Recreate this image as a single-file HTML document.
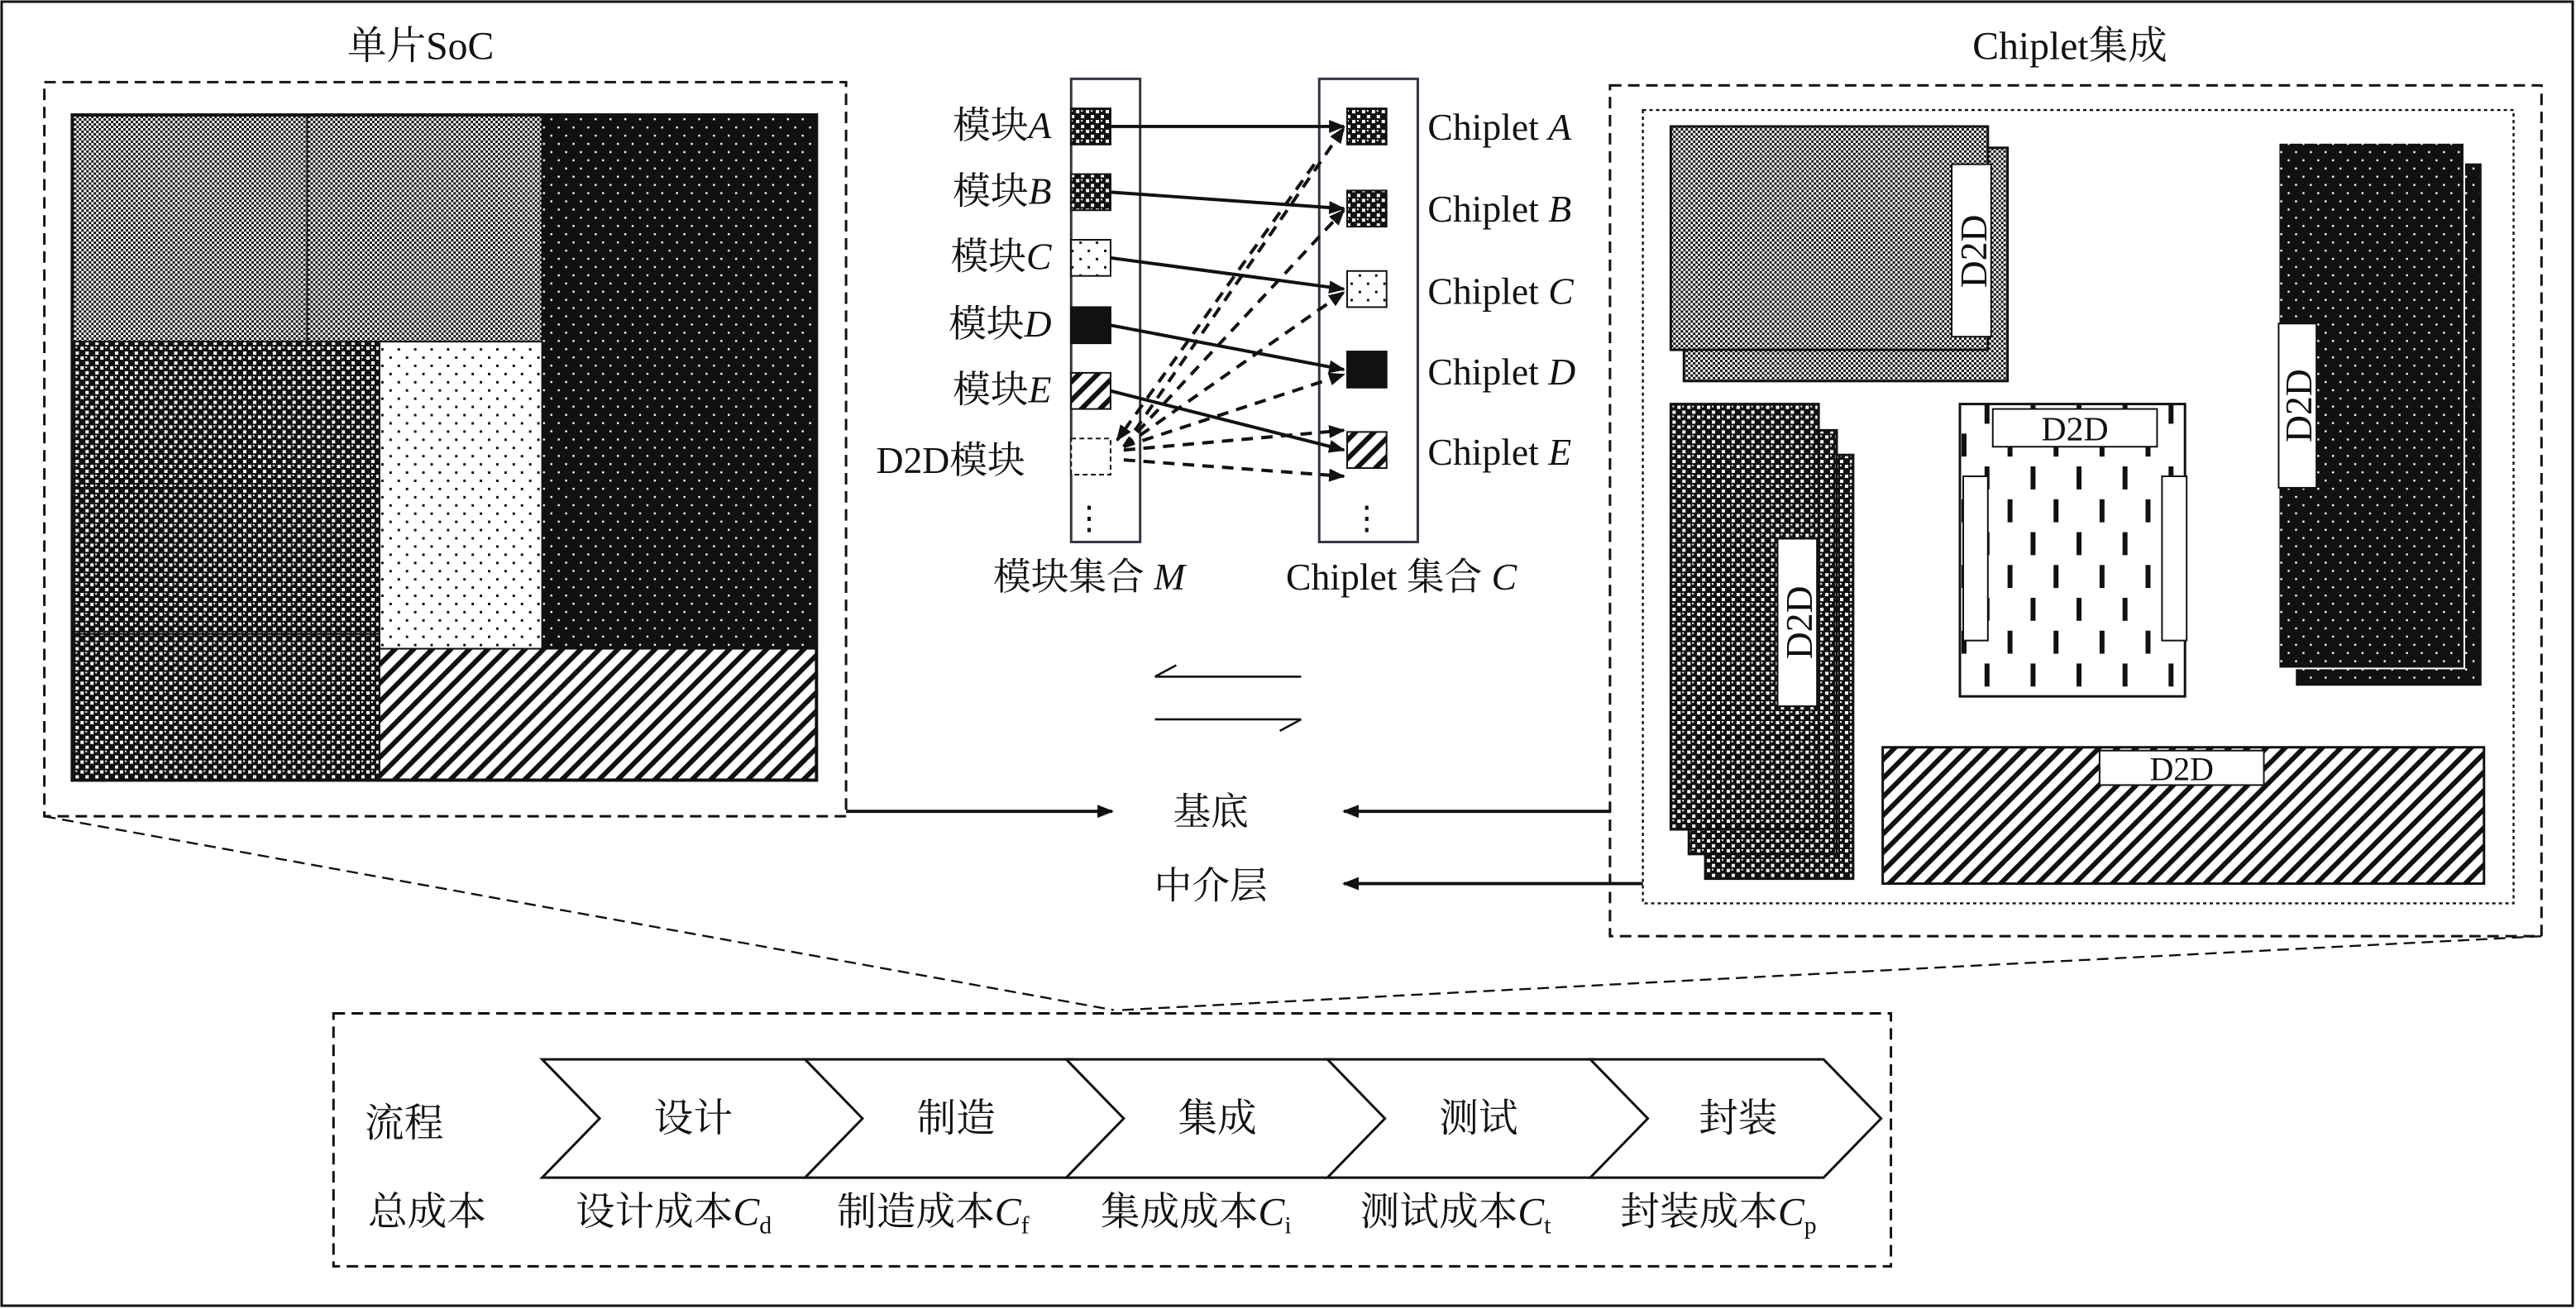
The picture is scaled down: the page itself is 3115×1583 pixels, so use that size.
<!DOCTYPE html>
<html><head><meta charset="utf-8"><style>html,body{margin:0;padding:0;background:#fff}svg{display:block}text{font-family:"Liberation Serif","Noto Serif CJK SC",serif;fill:#111}</style></head>
<body>
<svg width="3115" height="1583" viewBox="0 0 1568 797" preserveAspectRatio="none" xmlns="http://www.w3.org/2000/svg">
<defs>
<pattern id="ck" width="3" height="3" patternUnits="userSpaceOnUse"><rect width="3" height="3" fill="#fff"/><rect width="1.5" height="1.5" fill="#111"/><rect x="1.5" y="1.5" width="1.5" height="1.5" fill="#111"/></pattern>
<pattern id="ck2" width="6" height="6" patternUnits="userSpaceOnUse"><rect width="6" height="6" fill="#111"/><rect x="1" y="1" width="2" height="2" fill="#fff"/><rect x="4" y="4" width="2" height="2" fill="#fff"/><rect x="4" y="1" width="1" height="1" fill="#fff"/></pattern>
<pattern id="bd" width="9" height="10" patternUnits="userSpaceOnUse"><rect width="9" height="10" fill="#111"/><rect x="2" y="2" width="1.2" height="1.2" fill="#fff"/><rect x="6.5" y="7" width="1.2" height="1.2" fill="#fff"/></pattern>
<pattern id="wd" width="10" height="10" patternUnits="userSpaceOnUse"><rect width="10" height="10" fill="#fff"/><rect x="2" y="2" width="1.5" height="1.5" fill="#111"/><rect x="7" y="7" width="1.5" height="1.5" fill="#111"/></pattern>
<pattern id="ht" width="8" height="8" patternUnits="userSpaceOnUse" patternTransform="rotate(45)"><rect width="8" height="8" fill="#fff"/><rect width="3" height="8" fill="#111"/></pattern>
<pattern id="ds" width="28" height="40" patternUnits="userSpaceOnUse"><rect width="28" height="40" fill="#fff"/><rect x="4" y="4" width="3" height="14" fill="#111"/><rect x="18" y="24" width="3" height="14" fill="#111"/></pattern>
<marker id="ar" markerWidth="10" markerHeight="8" refX="9" refY="4" orient="auto" markerUnits="userSpaceOnUse"><path d="M0,0 L10,4 L0,8 Z" fill="#111"/></marker>
</defs>
<rect x="1" y="1" width="1565" height="794" fill="none" stroke="#111" stroke-width="1.5"/>
<text x="256" y="36" font-size="24" text-anchor="middle">单片SoC</text>
<text x="1260" y="36" font-size="24" text-anchor="middle">Chiplet集成</text>
<rect x="27" y="50" width="488" height="447" fill="none" stroke="#111" stroke-width="1.5" stroke-dasharray="7,4"/>
<rect x="44" y="70" width="143" height="138" fill="url(#ck)" stroke="#111"/>
<rect x="187" y="70" width="143" height="138" fill="url(#ck)" stroke="#111"/>
<rect x="330" y="70" width="167" height="325" fill="url(#bd)" stroke="#111"/>
<rect x="44" y="208" width="187" height="89" fill="url(#ck2)" stroke="#111"/>
<rect x="44" y="297" width="187" height="89" fill="url(#ck2)" stroke="#111"/>
<rect x="44" y="386" width="187" height="89" fill="url(#ck2)" stroke="#111"/>
<rect x="231" y="208" width="99" height="187" fill="url(#wd)" stroke="#111"/>
<rect x="231" y="395" width="266" height="80" fill="url(#ht)" stroke="#111"/>
<rect x="44" y="70" width="453" height="405" fill="none" stroke="#111" stroke-width="2"/>
<path d="M27,497 L678,615 M1547,570 L682,615" stroke="#111" stroke-width="1.2" stroke-dasharray="7,4" fill="none"/>
<rect x="652" y="48" width="42" height="282" fill="none" stroke="#334" stroke-width="1.5"/>
<rect x="803" y="48" width="60" height="282" fill="none" stroke="#334" stroke-width="1.5"/>
<g font-size="23" text-anchor="end">
<text x="640" y="84">模块<tspan font-style="italic">A</tspan></text>
<text x="640" y="124">模块<tspan font-style="italic">B</tspan></text>
<text x="640" y="164">模块<tspan font-style="italic">C</tspan></text>
<text x="640" y="205">模块<tspan font-style="italic">D</tspan></text>
<text x="640" y="245">模块<tspan font-style="italic">E</tspan></text>
<text x="624" y="288">D2D模块</text>
</g>
<g font-size="23">
<text x="869" y="85">Chiplet <tspan font-style="italic">A</tspan></text>
<text x="869" y="135">Chiplet <tspan font-style="italic">B</tspan></text>
<text x="869" y="185">Chiplet <tspan font-style="italic">C</tspan></text>
<text x="869" y="234">Chiplet <tspan font-style="italic">D</tspan></text>
<text x="869" y="283">Chiplet <tspan font-style="italic">E</tspan></text>
</g>
<rect x="652" y="66" width="24" height="22" fill="url(#ck2)" stroke="#111"/>
<rect x="652" y="106" width="24" height="22" fill="url(#ck2)" stroke="#111"/>
<rect x="652" y="146" width="24" height="22" fill="url(#wd)" stroke="#111"/>
<rect x="652" y="187" width="24" height="22" fill="#111" stroke="#111"/>
<rect x="652" y="227" width="24" height="22" fill="url(#ht)" stroke="#111"/>
<rect x="652" y="267" width="24" height="22" fill="#fff" stroke="#111" stroke-dasharray="3,2"/>
<rect x="820" y="66" width="24" height="22" fill="url(#ck2)" stroke="#111"/>
<rect x="820" y="116" width="24" height="22" fill="url(#ck2)" stroke="#111"/>
<rect x="820" y="165" width="24" height="22" fill="url(#wd)" stroke="#111"/>
<rect x="820" y="214" width="24" height="22" fill="#111" stroke="#111"/>
<rect x="820" y="263" width="24" height="22" fill="url(#ht)" stroke="#111"/>
<text x="663" y="322" font-size="20" text-anchor="middle">⋮</text>
<text x="832" y="322" font-size="20" text-anchor="middle">⋮</text>
<g stroke="#111" stroke-width="2" fill="none" marker-end="url(#ar)">
<path d="M676,77 L818,77"/><path d="M676,117 L818,127"/><path d="M676,157 L818,176"/><path d="M676,198 L818,225"/><path d="M676,238 L818,274"/>
</g>
<g stroke="#111" stroke-width="2" fill="none" stroke-dasharray="7,5" marker-end="url(#ar)">
<path d="M684,272 L818,78"/><path d="M684,272 L818,128"/><path d="M684,272 L818,178"/><path d="M684,272 L818,228"/><path d="M684,274 L818,262"/><path d="M684,280 L818,290"/><path d="M800,100 L680,268"/>
</g>
<text x="663" y="359" font-size="23" text-anchor="middle">模块集合 <tspan font-style="italic">M</tspan></text>
<text x="853" y="359" font-size="23" text-anchor="middle">Chiplet 集合 <tspan font-style="italic">C</tspan></text>
<path d="M703,412 L792,412 M703,412 L716,405 M703,438 L792,438 M792,438 L779,445" stroke="#111" stroke-width="1.3" fill="none"/>
<text x="737" y="502" font-size="23" text-anchor="middle">基底</text>
<text x="737" y="547" font-size="23" text-anchor="middle">中介层</text>
<g stroke="#111" stroke-width="2" fill="none" marker-end="url(#ar)">
<path d="M515,494 L677,494"/><path d="M980,494 L818,494"/><path d="M1000,538 L818,538"/>
</g>
<rect x="980" y="52" width="567" height="518" fill="none" stroke="#111" stroke-width="1.5" stroke-dasharray="7,4"/>
<rect x="1000" y="67" width="530" height="483" fill="none" stroke="#111" stroke-width="1.2" stroke-dasharray="2,2"/>
<rect x="1025" y="90" width="197" height="142" fill="url(#ck)" stroke="#111" stroke-width="1.5"/>
<rect x="1017" y="77" width="193" height="136" fill="url(#ck)" stroke="#111" stroke-width="1.5"/>
<rect x="1188" y="100" width="24" height="105" fill="#fff" stroke="#111"/>
<text transform="translate(1209,153) rotate(-90)" font-size="23" text-anchor="middle">D2D</text>
<rect x="1038" y="277" width="90" height="258" fill="url(#ck2)" stroke="#111" stroke-width="1.5"/>
<rect x="1028" y="262" width="90" height="258" fill="url(#ck2)" stroke="#111" stroke-width="1.5"/>
<rect x="1017" y="246" width="90" height="259" fill="url(#ck2)" stroke="#111" stroke-width="1.5"/>
<rect x="1082" y="328" width="24" height="102" fill="#fff" stroke="#111"/>
<text transform="translate(1103,379) rotate(-90)" font-size="23" text-anchor="middle">D2D</text>
<rect x="1193" y="246" width="137" height="178" fill="url(#ds)" stroke="#111" stroke-width="1.5"/>
<rect x="1213" y="249" width="100" height="23" fill="#fff" stroke="#111"/>
<text x="1263" y="268" font-size="21" text-anchor="middle">D2D</text>
<rect x="1195" y="290" width="15" height="100" fill="#fff" stroke="#111"/>
<rect x="1316" y="290" width="15" height="100" fill="#fff" stroke="#111"/>
<rect x="1398" y="100" width="112" height="317" fill="url(#bd)" stroke="#111"/>
<rect x="1387" y="87" width="113" height="320" fill="url(#bd)" stroke="#fff"/>
<rect x="1387" y="197" width="23" height="100" fill="#fff" stroke="#111"/>
<text transform="translate(1407,247) rotate(-90)" font-size="23" text-anchor="middle">D2D</text>
<rect x="1146" y="455" width="366" height="83" fill="url(#ht)" stroke="#111" stroke-width="1.5"/>
<rect x="1278" y="457" width="100" height="21" fill="#fff" stroke="#111"/>
<text x="1328" y="475" font-size="20" text-anchor="middle">D2D</text>
<rect x="203" y="617" width="948" height="154" fill="none" stroke="#111" stroke-width="1.5" stroke-dasharray="7,4"/>
<text x="246" y="692" font-size="24" text-anchor="middle">流程</text>
<text x="260" y="746" font-size="24" text-anchor="middle">总成本</text>
<g stroke="#111" stroke-width="1.5" fill="#fff">
<path d="M330,645 L493,645 L528,681 L493,717 L330,717 L365,681 Z"/>
<path d="M490,645 L653,645 L688,681 L653,717 L490,717 L525,681 Z"/>
<path d="M649,645 L812,645 L847,681 L812,717 L649,717 L684,681 Z"/>
<path d="M808,645 L971,645 L1006,681 L971,717 L808,717 L843,681 Z"/>
<path d="M968,645 L1110,645 L1145,681 L1110,717 L968,717 L1003,681 Z"/>
</g>
<g font-size="24" text-anchor="middle">
<text x="422" y="689">设计</text><text x="582" y="689">制造</text><text x="741" y="689">集成</text><text x="900" y="689">测试</text><text x="1058" y="689">封装</text>
<text x="410" y="746">设计成本<tspan font-style="italic">C</tspan><tspan font-size="15" dy="5">d</tspan></text>
<text x="568" y="746">制造成本<tspan font-style="italic">C</tspan><tspan font-size="15" dy="5">f</tspan></text>
<text x="728" y="746">集成成本<tspan font-style="italic">C</tspan><tspan font-size="15" dy="5">i</tspan></text>
<text x="886" y="746">测试成本<tspan font-style="italic">C</tspan><tspan font-size="15" dy="5">t</tspan></text>
<text x="1046" y="746">封装成本<tspan font-style="italic">C</tspan><tspan font-size="15" dy="5">p</tspan></text>
</g>
</svg>
</body></html>
